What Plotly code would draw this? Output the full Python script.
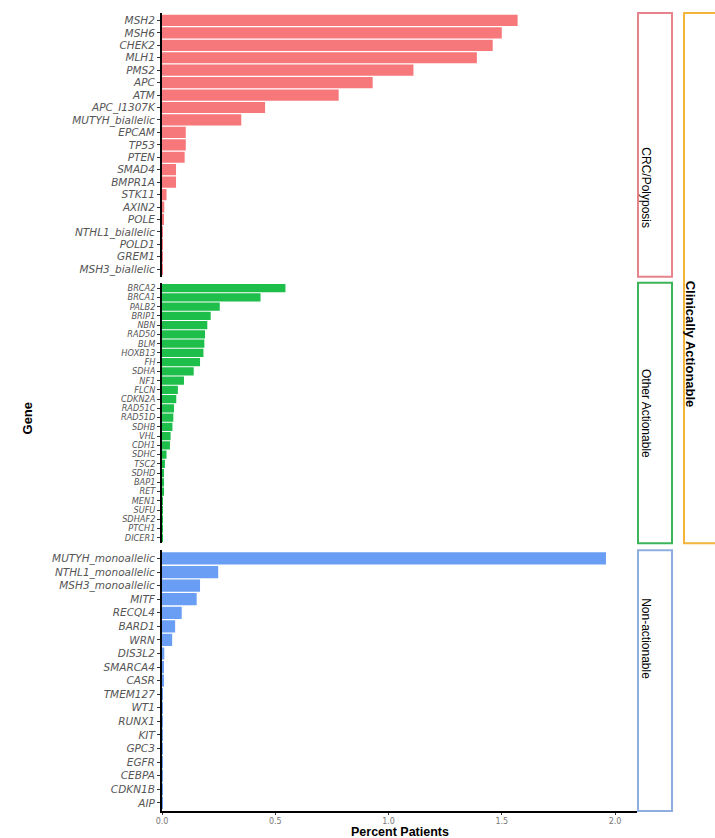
import plotly.graph_objects as go

# Gene groups, listed top to bottom within each panel
crc_genes = ["MSH2", "MSH6", "CHEK2", "MLH1", "PMS2", "APC", "ATM", "APC_I1307K",
             "MUTYH_biallelic", "EPCAM", "TP53", "PTEN", "SMAD4", "BMPR1A", "STK11",
             "AXIN2", "POLE", "NTHL1_biallelic", "POLD1", "GREM1", "MSH3_biallelic"]
crc_pct = [1.57, 1.50, 1.46, 1.39, 1.11, 0.93, 0.78, 0.455, 0.35, 0.105, 0.105, 0.10,
           0.062, 0.062, 0.02, 0.01, 0.005, 0.003, 0.002, 0.002, 0.001]

other_genes = ["BRCA2", "BRCA1", "PALB2", "BRIP1", "NBN", "RAD50", "BLM", "HOXB13", "FH",
               "SDHA", "NF1", "FLCN", "CDKN2A", "RAD51C", "RAD51D", "SDHB", "VHL", "CDH1",
               "SDHC", "TSC2", "SDHD", "BAP1", "RET", "MEN1", "SUFU", "SDHAF2", "PTCH1",
               "DICER1"]
other_pct = [0.545, 0.435, 0.255, 0.215, 0.20, 0.19, 0.187, 0.183, 0.168, 0.14, 0.097,
             0.07, 0.063, 0.053, 0.05, 0.046, 0.038, 0.035, 0.02, 0.013, 0.008, 0.007,
             0.005, 0.003, 0.002, 0.002, 0.001, 0.001]

non_genes = ["MUTYH_monoallelic", "NTHL1_monoallelic", "MSH3_monoallelic", "MITF", "RECQL4",
             "BARD1", "WRN", "DIS3L2", "SMARCA4", "CASR", "TMEM127", "WT1", "RUNX1", "KIT",
             "GPC3", "EGFR", "CEBPA", "CDKN1B", "AIP"]
non_pct = [1.96, 0.248, 0.168, 0.153, 0.087, 0.058, 0.045, 0.01, 0.006, 0.005, 0.004,
           0.002, 0.002, 0.002, 0.001, 0.001, 0.001, 0.001, 0.001]

panel_names = ["CRC/Polyposis", "Other Actionable", "Non-actionable"]
group_name = "Clinically Actionable"
x_ticks = [0.0, 0.5, 1.0, 1.5, 2.0]
x_tick_text = ["0.0", "0.5", "1.0", "1.5", "2.0"]

W, H = 715, 838
ML, MR, MT, MB = 162, 78, 13, 23
PW, PH = W - ML - MR, H - MT - MB


def px_x(p):
    return (p - ML) / PW


def px_y(p):
    return (H - MB - p) / PH


bar_colors = ["#F6787A", "#1DBE4A", "#6A9EF5"]
box_colors = ["#E8838C", "#3CB45A", "#8EAEE0"]
group_color = "#F2B53A"

# pixel extents of the three panels (top, bottom)
panels_px = [(13, 278), (284, 546), (553, 815)]

fig = go.Figure()
series = [(crc_genes, crc_pct), (other_genes, other_pct), (non_genes, non_pct)]
for i, (genes, pct) in enumerate(series):
    fig.add_trace(go.Bar(
        x=pct, y=genes, orientation="h",
        marker=dict(color=bar_colors[i], line=dict(width=0)),
        width=0.9, showlegend=False,
        xaxis="x" if i == 0 else f"x{i+1}",
        yaxis="y" if i == 0 else f"y{i+1}",
    ))

tick_sizes = [10.5, 8.2, 10.5]
layout = dict(
    width=W, height=H,
    margin=dict(l=ML, r=MR, t=MT, b=MB),
    paper_bgcolor="white", plot_bgcolor="white",
    bargap=0.1,
)
for i, (genes, _) in enumerate(series):
    sfx = "" if i == 0 else str(i + 1)
    top, bot = panels_px[i]
    n = len(genes)
    layout["yaxis" + sfx] = dict(
        domain=[px_y(bot), px_y(top)],
        anchor="x" + sfx,
        type="category",
        categoryorder="array", categoryarray=genes,
        tickmode="array", tickvals=genes, ticktext=genes,
        range=[n - 0.4, -0.6],
        showline=True, linecolor="black", linewidth=2,
        ticks="outside", ticklen=3, tickwidth=1, tickcolor="#333333",
        tickfont=dict(family="DejaVu Sans", size=tick_sizes[i], color="#555555",
                      style="italic"),
        showgrid=False, zeroline=False,
    )
    last = i == 2
    layout["xaxis" + sfx] = dict(
        domain=[0, 1], anchor="y" + sfx,
        range=[0, 2.097],
        showgrid=False, zeroline=False,
        showline=last, linecolor="black", linewidth=1.5,
        ticks="outside" if last else "", ticklen=2, tickcolor="#333333",
        showticklabels=last,
        tickmode="array", tickvals=x_ticks, ticktext=x_tick_text,
        tickfont=dict(family="DejaVu Sans", size=8, color="#777777"),
    )
fig.update_layout(**layout)

# facet strips on the right
shapes = []
annotations = []
for i, name in enumerate(panel_names):
    top, bot = panels_px[i]
    shapes.append(dict(
        type="rect", xref="paper", yref="paper",
        x0=px_x(638), x1=px_x(672), y0=px_y(bot), y1=px_y(top),
        line=dict(color=box_colors[i], width=2), fillcolor="white", layer="above",
    ))
    annotations.append(dict(
        x=px_x(655), y=px_y((top + bot) / 2), xref="paper", yref="paper",
        text=name, textangle=90, showarrow=False,
        font=dict(family="Liberation Sans", size=12, color="black"),
    ))

# outer strip grouping the two actionable panels
shapes.append(dict(
    type="rect", xref="paper", yref="paper",
    x0=px_x(684), x1=px_x(740), y0=px_y(546), y1=px_y(13),
    line=dict(color=group_color, width=2), fillcolor="white", layer="above",
))
annotations.append(dict(
    x=px_x(700), y=px_y(280), xref="paper", yref="paper",
    text=f"<b>{group_name}</b>", textangle=90, showarrow=False,
    font=dict(family="Liberation Sans", size=13, color="black"),
))

# axis titles
annotations.append(dict(
    x=px_x(18), y=px_y(420), xref="paper", yref="paper",
    text="<b>Gene</b>", textangle=-90, showarrow=False,
    font=dict(family="Liberation Sans", size=13, color="black"),
))
annotations.append(dict(
    x=px_x(400), y=px_y(836), xref="paper", yref="paper",
    text="<b>Percent Patients</b>", showarrow=False,
    font=dict(family="Liberation Sans", size=12.5, color="black"),
    yanchor="middle",
))

fig.update_layout(shapes=shapes, annotations=annotations)
fig.write_html("out.html")
